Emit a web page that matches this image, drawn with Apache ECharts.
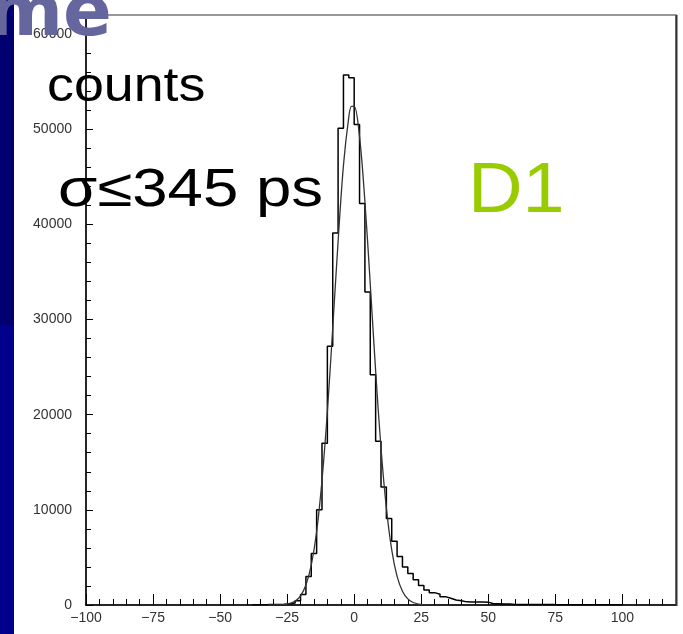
<!DOCTYPE html>
<html><head><meta charset="utf-8">
<script src="https://cdn.jsdelivr.net/npm/echarts@6/dist/echarts.min.js"></script>
<style>html,body{margin:0;padding:0;background:#fff}#c{width:683px;height:634px}</style>
</head><body><div id="c"></div>
<script>
// Histogram: left edge of each bin and its count (bin width 2)
const binLeftEdges = [-38,-36,-34,-32,-30,-28,-26,-24,-22,-20,-18,-16,-14,-12,-10,-8,-6,-4,-2,0,2,4,6,8,10,12,14,16,18,20,22,24,26,28,30,32,34,36,38,40,42,44,46,48,50,52,54,56,58,60,62,64,66,68,70,72,74,76,78,80,82,84,86,88,90,92,94,96,98];
const binWidth = 2;
const binCounts = [30,35,40,50,60,80,110,200,450,1100,3000,5400,10000,17000,27200,39100,50100,55700,55400,50500,42200,32900,24200,17200,12400,9100,6700,5100,4000,3300,2650,2050,1570,1300,1130,880,700,520,450,330,320,320,310,300,130,120,110,100,60,50,50,45,45,40,40,40,35,35,35,30,30,30,30,25,25,25,20,20,20];
// Gaussian fit curve
const fitX = [-32,-30,-28,-26,-24,-22,-20,-18,-16,-14,-12,-10,-8,-6,-4,-2,-1,0,2,4,6,8,10,12,14,16,18,20,22,24,26,28];
const fitY = [2,6,19,57,160,410,970,2100,4200,7700,13100,20300,29100,38200,46200,51300,52400,52400,49200,42400,33700,24600,16500,10200,5800,3000,1450,640,260,95,33,10];
const xTickLabels = [-100,-75,-50,-25,0,25,50,75,100];
const yTickLabels = [0,10000,20000,30000,40000,50000,60000];

const histData = [[binLeftEdges[0], 0]];
binLeftEdges.forEach((e, i) => histData.push([e, binCounts[i]]));
const lastEdge = binLeftEdges[binLeftEdges.length - 1] + binWidth;
histData.push([lastEdge, binCounts[binCounts.length - 1]]);
histData.push([lastEdge, 0]);
const fitData = fitX.map((x, i) => [x, fitY[i]]);

const fmtX = v => xTickLabels.indexOf(v) < 0 ? '' : (v < 0 ? '\u2212' + Math.abs(v) : String(v));
const fmtY = v => yTickLabels.indexOf(v) < 0 ? '' : String(v);
const lblStyle = { color: '#333', fontFamily: 'Liberation Sans', fontSize: 14 };

const chart = echarts.init(document.getElementById('c'), null, { renderer: 'canvas' });
chart.setOption({
  animation: false,
  backgroundColor: '#fff',
  grid: { left: 86, right: 7, top: 15, bottom: 29, show: true, borderColor: '#777', borderWidth: 1.5, backgroundColor: 'transparent' },
  xAxis: [
    { type: 'value', min: -100, max: 120, interval: 25, position: 'bottom',
      axisLine: { show: true, onZero: false, lineStyle: { color: '#000', width: 1.5 } },
      axisTick: { show: true, inside: true, length: 11, lineStyle: { color: '#000', width: 1 } },
      axisLabel: Object.assign({ formatter: fmtX, margin: 6 }, lblStyle),
      splitLine: { show: false } },
    { type: 'value', min: -100, max: 120, interval: 5, position: 'bottom',
      axisLine: { show: false, onZero: false },
      axisTick: { show: true, inside: true, length: 6, lineStyle: { color: '#000', width: 1 } },
      axisLabel: { show: false }, splitLine: { show: false } }
  ],
  yAxis: [
    { type: 'value', min: 0, max: 62000, interval: 10000, position: 'left',
      axisLine: { show: true, onZero: false, lineStyle: { color: '#000', width: 1.5 } },
      axisTick: { show: true, inside: true, length: 7, lineStyle: { color: '#000', width: 1 } },
      axisLabel: Object.assign({ formatter: fmtY, margin: 14 }, lblStyle),
      splitLine: { show: false } },
    { type: 'value', min: 0, max: 62000, interval: 2000, position: 'left',
      axisLine: { show: false, onZero: false },
      axisTick: { show: true, inside: true, length: 5, lineStyle: { color: '#000', width: 1 } },
      axisLabel: { show: false }, splitLine: { show: false } }
  ],
  series: [
    { type: 'line', step: 'end', data: histData, symbol: 'none', xAxisIndex: 0, yAxisIndex: 0,
      lineStyle: { color: '#000', width: 1.5 }, z: 3 },
    { type: 'line', smooth: 0.35, data: fitData, symbol: 'none', xAxisIndex: 0, yAxisIndex: 0,
      lineStyle: { color: '#333', width: 1.3 }, z: 4 }
  ],
  graphic: [
    { type: 'line', z: 99, shape: { x1: 676.5, y1: 15, x2: 676.5, y2: 606 }, style: { stroke: '#333', lineWidth: 2 } },
    { type: 'rect', left: 0, top: 0, z: 100, shape: { width: 14, height: 325 }, style: { fill: '#000070' } },
    { type: 'rect', left: 0, top: 325, z: 100, shape: { width: 14, height: 309 }, style: { fill: '#00008c' } },
    { type: 'text', z: 101, x: -12, y: 16, style: { x: 0, y: 0, text: 'me', fill: '#66669e', font: 'bold 72px "DejaVu Sans"', verticalAlign: 'middle' } },
    { type: 'text', z: 101, x: 47, y: 87.5, scaleX: 1.12, style: { x: 0, y: 0, text: 'counts', fill: '#000', font: '48px "Liberation Sans"', verticalAlign: 'middle', shadowColor: '#aaa', shadowOffsetX: 3, shadowOffsetY: 3, shadowBlur: 0 } },
    { type: 'text', z: 101, x: 58, y: 191, scaleX: 1.2, style: { x: 0, y: 0, text: 'σ≤345 ps', fill: '#000', font: '53px "Liberation Sans"', verticalAlign: 'middle' } },
    { type: 'text', z: 101, x: 468, y: 192.5, scaleX: 1.08, style: { x: 0, y: 0, text: 'D1', fill: '#99cc00', font: '70px "Liberation Sans"', verticalAlign: 'middle' } }
  ]
});
</script></body></html>
